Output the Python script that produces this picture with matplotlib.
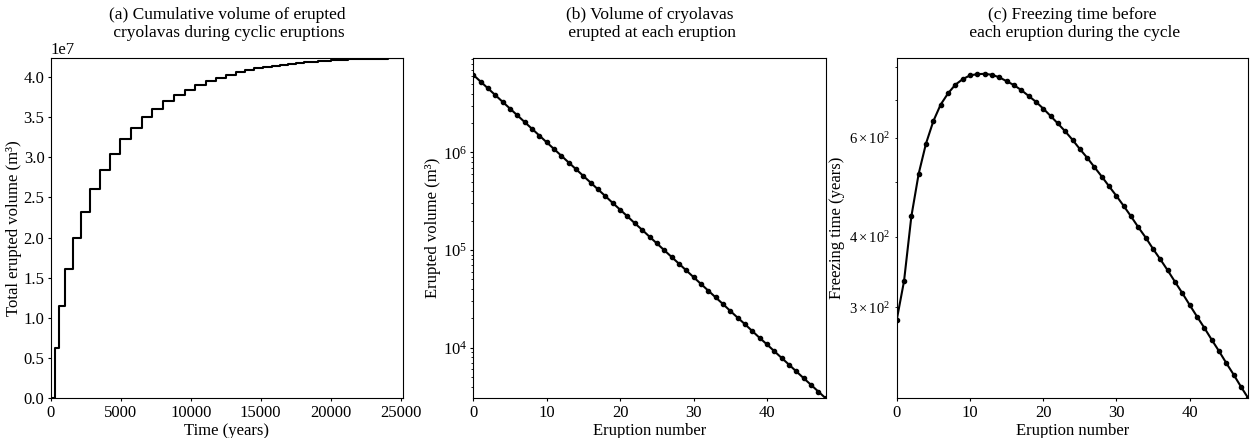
import numpy as np
import matplotlib
matplotlib.use("Agg")
import matplotlib.pyplot as plt

plt.rcParams['font.family'] = ['Liberation Serif', 'DejaVu Serif']
plt.rcParams['mathtext.fontset'] = 'stix'
plt.rcParams['font.size'] = 12
plt.rcParams['xtick.major.size'] = 2.5
plt.rcParams['ytick.major.size'] = 2.5
plt.rcParams['xtick.major.pad'] = 2.5
plt.rcParams['ytick.major.pad'] = 2.0
plt.rcParams['xtick.minor.size'] = 1.5
plt.rcParams['ytick.minor.size'] = 1.5

eruption_number = list(range(49))

erupted_volume = [6.22e6, 5.306e6, 4.526e6, 3.860e6, 3.293e6, 2.809e6, 2.396e6, 2.044e6,
                  1.743e6, 1.487e6, 1.268e6, 1.082e6, 9.23e5, 7.87e5, 6.72e5, 5.73e5,
                  4.89e5, 4.17e5, 3.56e5, 3.03e5, 2.59e5, 2.21e5, 1.88e5, 1.61e5,
                  1.37e5, 1.17e5, 9.97e4, 8.51e4, 7.26e4, 6.19e4, 5.28e4, 4.50e4,
                  3.84e4, 3.28e4, 2.80e4, 2.38e4, 2.03e4, 1.74e4, 1.48e4, 1.26e4,
                  1.08e4, 9.2e3, 7.85e3, 6.70e3, 5.71e3, 4.87e3, 4.16e3, 3.55e3, 3.03e3]

freezing_time = [285, 334, 435, 518, 586, 642, 687, 719, 745, 762,
                 774, 778, 779, 776, 768, 756, 744, 729, 712, 695,
                 676, 656, 636, 616, 595, 573, 553, 532, 512, 492,
                 473, 454, 435, 416, 399, 381, 365, 349, 333, 318,
                 303, 289, 276, 263, 251, 239, 228, 217, 207]

titles = ["(a) Cumulative volume of erupted\n cryolavas during cyclic eruptions",
          "(b) Volume of cryolavas\n erupted at each eruption",
          "(c) Freezing time before\n each eruption during the cycle"]

cum_time = np.concatenate([[0.0], np.cumsum(freezing_time)])
cum_vol = np.concatenate([[0.0], np.cumsum(erupted_volume)])

fig = plt.figure(figsize=(12.53, 4.38), dpi=100)
W, H = 1253, 438
def ax_at(l, r, t, b):
    return fig.add_axes([l / W, (H - b) / H, (r - l) / W, (b - t) / H])

ax1 = ax_at(50.7, 403.3, 58.3, 398.3)
ax2 = ax_at(473.3, 825.7, 58.3, 398.3)
ax3 = ax_at(896.7, 1248.3, 58.3, 398.3)

ax1.step(cum_time, cum_vol, where='post', color='black', lw=1.5)
ax1.set_xlim(0, 25190)
ax1.set_ylim(0, cum_vol[-1])
ax1.set_xlabel("Time (years)", labelpad=1)
ax1.set_ylabel("Total erupted volume (m³)", labelpad=1)

ax2.plot(eruption_number, erupted_volume, color='black', lw=1.5, marker='o', ms=3)
ax2.set_yscale('log')
ax2.set_xlim(0, 48)
ax2.set_ylim(erupted_volume[-1], 9.2e6)
ax2.set_xlabel("Eruption number", labelpad=1)
ax2.set_ylabel("Erupted volume (m³)", labelpad=1)

ax3.plot(eruption_number, freezing_time, color='black', lw=1.5, marker='o', ms=3)
ax3.set_yscale('log')
ax3.set_xlim(0, 48)
ax3.set_ylim(freezing_time[-1], 830)
ax3.set_xlabel("Eruption number", labelpad=1)
ax3.set_ylabel("Freezing time (years)", labelpad=3)
ax3.tick_params(axis='y', which='both', labelsize=10.5)

for ax in (ax2, ax3):
    ax.set_xticks([0, 10, 20, 30, 40])

for ax, t in zip((ax1, ax2, ax3), titles):
    ax.text(0.5, 1.0 + 17 / 340, t, transform=ax.transAxes, ha='center', va='bottom',
            fontsize=12.5, linespacing=1.2)

fig.savefig("out.png", dpi=100)
